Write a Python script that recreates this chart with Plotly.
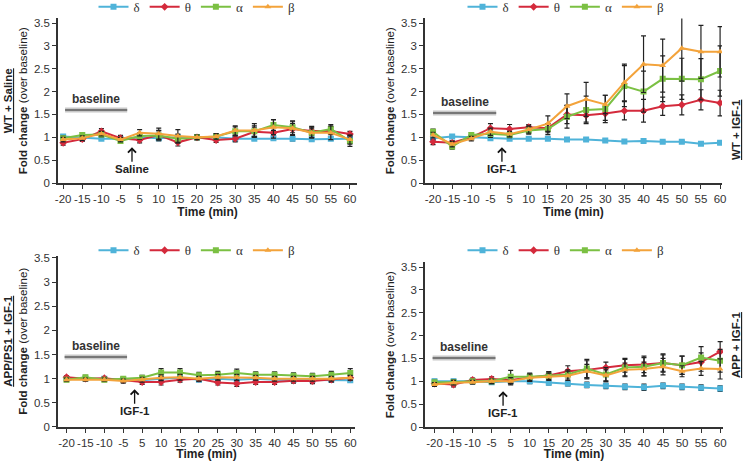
import plotly.graph_objects as go

times = ["-20", "-15", "-10", "-5", "5", "10", "15", "20", "25", "30", "35", "40", "45", "50", "55", "60"]
bands = ["δ", "θ", "α", "β"]

# Panel A: WT + Saline
wt_sal_delta = [1.02, 1.00, 0.97, 0.97, 1.00, 0.98, 1.00, 1.00, 1.00, 0.97, 0.97, 0.98, 0.97, 0.96, 0.97, 0.97]
wt_sal_theta = [0.88, 0.96, 1.13, 0.98, 0.94, 1.05, 0.89, 1.00, 0.94, 0.97, 1.12, 1.10, 1.18, 1.14, 1.14, 1.07]
wt_sal_alpha = [0.98, 1.05, 1.06, 0.92, 1.03, 1.04, 0.97, 1.00, 1.02, 1.13, 1.13, 1.27, 1.22, 1.10, 1.18, 0.92]
wt_sal_beta = [0.95, 0.98, 1.08, 0.95, 1.10, 1.08, 1.03, 1.00, 1.02, 1.15, 1.15, 1.22, 1.20, 1.10, 1.10, 0.95]
wt_sal_delta_err = [0.04, 0.03, 0.03, 0.04, 0.05, 0.06, 0.05, 0.04, 0.05, 0.04, 0.04, 0.05, 0.05, 0.04, 0.04, 0.05]
wt_sal_theta_err = [0.05, 0.05, 0.06, 0.06, 0.06, 0.10, 0.08, 0.05, 0.05, 0.07, 0.10, 0.12, 0.12, 0.10, 0.08, 0.06]
wt_sal_alpha_err = [0.05, 0.05, 0.05, 0.05, 0.07, 0.10, 0.10, 0.05, 0.06, 0.10, 0.12, 0.12, 0.12, 0.10, 0.10, 0.12]
wt_sal_beta_err = [0.05, 0.05, 0.05, 0.05, 0.07, 0.12, 0.14, 0.05, 0.06, 0.10, 0.15, 0.16, 0.16, 0.12, 0.15, 0.10]

# Panel B: WT + IGF-1
wt_igf_delta = [0.98, 1.02, 1.00, 0.98, 0.97, 0.97, 0.97, 0.95, 0.95, 0.93, 0.91, 0.92, 0.90, 0.90, 0.86, 0.88]
wt_igf_theta = [0.90, 0.88, 1.00, 1.20, 1.18, 1.22, 1.20, 1.50, 1.48, 1.52, 1.58, 1.58, 1.68, 1.71, 1.82, 1.75]
wt_igf_alpha = [1.12, 0.80, 1.05, 1.08, 1.05, 1.15, 1.18, 1.45, 1.60, 1.62, 2.12, 2.00, 2.28, 2.28, 2.27, 2.45]
wt_igf_beta = [1.05, 0.85, 0.97, 1.12, 1.07, 1.17, 1.30, 1.68, 1.83, 1.72, 2.20, 2.60, 2.57, 2.95, 2.87, 2.87]
wt_igf_delta_err = [0.03, 0.03, 0.03, 0.03, 0.03, 0.03, 0.03, 0.03, 0.03, 0.03, 0.03, 0.03, 0.03, 0.03, 0.03, 0.03]
wt_igf_theta_err = [0.06, 0.05, 0.05, 0.10, 0.10, 0.06, 0.10, 0.20, 0.15, 0.15, 0.20, 0.25, 0.20, 0.22, 0.22, 0.28]
wt_igf_alpha_err = [0.06, 0.06, 0.05, 0.08, 0.06, 0.08, 0.12, 0.25, 0.30, 0.30, 0.45, 0.45, 0.50, 0.45, 0.45, 0.55]
wt_igf_beta_err = [0.06, 0.06, 0.05, 0.08, 0.06, 0.08, 0.17, 0.27, 0.37, 0.20, 0.40, 0.62, 0.58, 0.72, 0.58, 0.55]

# Panel C: APP/PS1 + IGF-1
aps_delta = [1.00, 1.00, 1.00, 0.98, 0.97, 1.00, 1.02, 0.98, 1.00, 0.98, 1.00, 0.98, 0.98, 0.98, 0.98, 0.97]
aps_theta = [1.03, 1.00, 1.01, 0.97, 0.93, 0.93, 0.98, 1.00, 0.92, 0.90, 0.93, 0.93, 0.96, 0.95, 0.98, 1.02]
aps_alpha = [0.98, 1.03, 0.98, 1.00, 1.02, 1.13, 1.13, 1.07, 1.08, 1.12, 1.08, 1.08, 1.06, 1.05, 1.08, 1.12]
aps_beta = [0.98, 0.98, 0.98, 0.95, 0.98, 1.02, 1.03, 1.00, 1.03, 1.03, 1.02, 1.00, 1.00, 1.00, 1.00, 1.02]
aps_delta_err = [0.03, 0.03, 0.03, 0.03, 0.04, 0.04, 0.04, 0.04, 0.04, 0.04, 0.04, 0.04, 0.04, 0.04, 0.04, 0.04]
aps_theta_err = [0.03, 0.03, 0.03, 0.04, 0.05, 0.06, 0.05, 0.05, 0.05, 0.06, 0.05, 0.05, 0.05, 0.05, 0.05, 0.05]
aps_alpha_err = [0.04, 0.04, 0.04, 0.04, 0.05, 0.08, 0.08, 0.06, 0.07, 0.08, 0.06, 0.06, 0.06, 0.06, 0.07, 0.09]
aps_beta_err = [0.03, 0.03, 0.03, 0.04, 0.05, 0.06, 0.06, 0.05, 0.06, 0.06, 0.05, 0.05, 0.05, 0.05, 0.05, 0.05]

# Panel D: APP + IGF-1
app_delta = [1.00, 1.00, 1.00, 0.98, 1.00, 1.00, 0.97, 0.95, 0.92, 0.90, 0.88, 0.87, 0.90, 0.88, 0.86, 0.84]
app_theta = [0.95, 0.93, 1.03, 1.05, 1.03, 1.08, 1.13, 1.22, 1.25, 1.30, 1.35, 1.37, 1.40, 1.35, 1.42, 1.65]
app_alpha = [0.98, 0.98, 1.00, 1.00, 1.10, 1.10, 1.12, 1.15, 1.28, 1.15, 1.30, 1.32, 1.40, 1.35, 1.52, 1.45]
app_beta = [0.93, 0.97, 0.98, 1.00, 1.00, 1.08, 1.10, 1.12, 1.22, 1.13, 1.25, 1.27, 1.32, 1.22, 1.28, 1.27]
app_delta_err = [0.04, 0.04, 0.03, 0.04, 0.05, 0.05, 0.05, 0.05, 0.06, 0.06, 0.06, 0.07, 0.06, 0.06, 0.06, 0.06]
app_theta_err = [0.04, 0.05, 0.04, 0.05, 0.08, 0.08, 0.08, 0.12, 0.20, 0.12, 0.15, 0.18, 0.20, 0.20, 0.20, 0.22]
app_alpha_err = [0.04, 0.05, 0.04, 0.05, 0.14, 0.08, 0.08, 0.10, 0.20, 0.15, 0.18, 0.20, 0.18, 0.20, 0.24, 0.25]
app_beta_err = [0.04, 0.05, 0.04, 0.05, 0.08, 0.08, 0.08, 0.10, 0.15, 0.12, 0.15, 0.15, 0.18, 0.12, 0.15, 0.22]

colors = {"δ": "#4fb3d9", "θ": "#d42a3c", "α": "#7bc043", "β": "#f3a33b"}
symbols = {"δ": "square", "θ": "diamond", "α": "square", "β": "triangle-up"}

panels = [
    dict(vals=[wt_sal_delta, wt_sal_theta, wt_sal_alpha, wt_sal_beta],
         errs=[wt_sal_delta_err, wt_sal_theta_err, wt_sal_alpha_err, wt_sal_beta_err],
         x=[58, 357], y0=183, top=3.6, ppu=45.7, xr=[-0.27, 15.37], legend="legend",
         stim="Saline", base_y=1.6, base_x=[0.1, 3.35]),
    dict(vals=[wt_igf_delta, wt_igf_theta, wt_igf_alpha, wt_igf_beta],
         errs=[wt_igf_delta_err, wt_igf_theta_err, wt_igf_alpha_err, wt_igf_beta_err],
         x=[425, 722], y0=183, top=3.6, ppu=45.7, xr=[-0.42, 15.1], legend="legend2",
         stim="IGF-1", base_y=1.53, base_x=[0.0, 3.3]),
    dict(vals=[aps_delta, aps_theta, aps_alpha, aps_beta],
         errs=[aps_delta_err, aps_theta_err, aps_alpha_err, aps_beta_err],
         x=[58, 355], y0=427, top=3.55, ppu=48.3, xr=[-0.45, 15.25], legend="legend3",
         stim="IGF-1", base_y=1.45, base_x=[-0.1, 3.2]),
    dict(vals=[app_delta, app_theta, app_alpha, app_beta],
         errs=[app_delta_err, app_theta_err, app_alpha_err, app_beta_err],
         x=[425, 723], y0=427, top=3.6, ppu=45.7, xr=[-0.5, 15.15], legend="legend4",
         stim="IGF-1", base_y=1.51, base_x=[-0.1, 3.2]),
]

W, H = 746, 461
FONT = "Liberation Sans, Arial, sans-serif"
fig = go.Figure()
layout = dict(width=W, height=H, margin=dict(l=0, r=0, t=0, b=0, autoexpand=False),
              paper_bgcolor="white", plot_bgcolor="white",
              font=dict(family=FONT, size=11, color="#333333"), annotations=[], shapes=[])

for i, p in enumerate(panels):
    n = "" if i == 0 else str(i + 1)
    xa, ya = "x" + n, "y" + n
    for b, v, e in zip(bands, p["vals"], p["errs"]):
        fig.add_trace(go.Scatter(
            x=times, y=v, name=b, mode="lines+markers", xaxis=xa, yaxis=ya,
            legend=p["legend"],
            line=dict(color=colors[b], width=2),
            marker=dict(color=colors[b], symbol=symbols[b], size=6),
            error_y=dict(type="data", array=e, visible=True, color="#222222", thickness=1.2, width=2.5),
        ))
    ybot = (H - p["y0"]) / H
    ytop = (H - (p["y0"] - p["top"] * p["ppu"])) / H
    layout["xaxis" + n] = dict(
        domain=[p["x"][0] / W, p["x"][1] / W], anchor=ya, type="category", automargin=False,
        range=p["xr"], showline=True, linecolor="#333333", linewidth=1.5,
        ticks="outside", ticklen=4, tickcolor="#333333", showgrid=False, zeroline=False,
        tickfont=dict(size=11.5, color="#333333"),
        title=dict(text="<b>Time (min)</b>", font=dict(size=12, color="#222222"), standoff=2),
    )
    layout["yaxis" + n] = dict(
        domain=[ybot, ytop], anchor=xa, range=[0, p["top"]], automargin=False,
        tickvals=[0, 0.5, 1, 1.5, 2, 2.5, 3, 3.5], ticktext=["0", "0.5", "1", "1.5", "2", "2.5", "3", "3.5"],
        showline=True, linecolor="#333333", linewidth=1.5,
        ticks="outside", ticklen=4, tickcolor="#333333", showgrid=False, zeroline=False,
        tickfont=dict(size=11.5, color="#333333"),
    )
    # baseline bar
    layout["shapes"].append(dict(type="line", xref=xa, yref=ya, x0=p["base_x"][0], x1=p["base_x"][1],
                                 y0=p["base_y"], y1=p["base_y"], line=dict(color="#c8c8c8", width=5)))
    layout["shapes"].append(dict(type="line", xref=xa, yref=ya, x0=p["base_x"][0], x1=p["base_x"][1],
                                 y0=p["base_y"], y1=p["base_y"], line=dict(color="#777777", width=2)))
    layout["annotations"].append(dict(xref=xa, yref=ya, x=sum(p["base_x"]) / 2, y=p["base_y"],
                                      yshift=11, text="<b>baseline</b>", showarrow=False,
                                      font=dict(size=12, color="#333333")))
    # stimulus arrow
    layout["annotations"].append(dict(xref=xa, yref=ya, x=3.6, y=0.78,
                                      ax=0, ay=22, text="<b>" + p["stim"] + "</b>", showarrow=True,
                                      arrowhead=4, arrowsize=1.2, arrowwidth=1.3, arrowcolor="#111111",
                                      font=dict(size=11.5, color="#222222")))
    # legend
    ly = 0.985 if i < 2 else 0.457
    lx = 197 / W if i % 2 == 0 else 566 / W
    layout[p["legend"]] = dict(orientation="h", x=lx, y=ly, xanchor="center", yanchor="middle",
                               itemwidth=30,
                               font=dict(family="Liberation Serif, serif", size=13, color="#333333"),
                               bgcolor="rgba(0,0,0,0)", tracegroupgap=0)

# y titles
layout["yaxis"]["title"] = dict(text="<b><u>WT + Saline</u></b><br><b>Fold change</b> (over baseline)",
                                font=dict(size=11.5, color="#222222"), standoff=4)
layout["yaxis3"]["title"] = dict(text="<b><u>APP/PS1 + IGF-1</u></b><br><b>Fold change</b> (over baseline)",
                                 font=dict(size=11.5, color="#222222"), standoff=4)
layout["yaxis2"]["title"] = dict(text="<b>Fold change</b> (over baseline)",
                                 font=dict(size=11.5, color="#222222"), standoff=4)
layout["yaxis4"]["title"] = dict(text="<b>Fold change</b> (over baseline)",
                                 font=dict(size=11.5, color="#222222"), standoff=4)

# right-side group labels
layout["annotations"].append(dict(xref="paper", yref="paper", x=736 / W, y=(H - 130) / H, textangle=-90,
                                  xanchor="center", yanchor="middle",
                                  text="<b><u>WT + IGF-1</u></b>", showarrow=False,
                                  font=dict(size=11.5, color="#222222")))
layout["annotations"].append(dict(xref="paper", yref="paper", x=736 / W, y=(H - 345) / H, textangle=-90,
                                  xanchor="center", yanchor="middle",
                                  text="<b><u>APP + IGF-1</u></b>", showarrow=False,
                                  font=dict(size=11.5, color="#222222")))

fig.update_layout(**layout)
fig.write_html("out.html", config={"displayModeBar": False},
               post_script="document.body.style.margin='0';")
